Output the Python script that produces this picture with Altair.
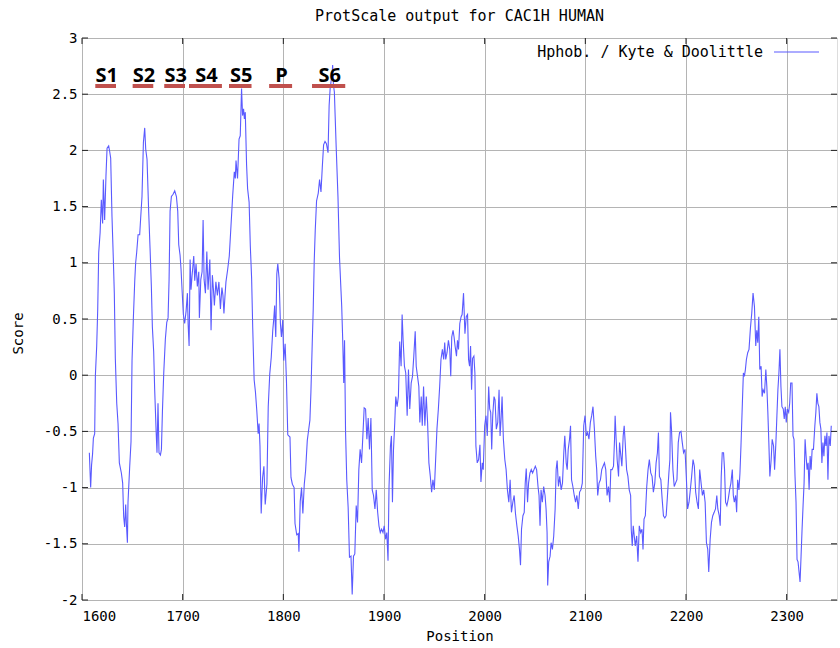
import altair as alt
import pandas as pd

# Kyte & Doolittle hydropathy profile of CAC1H (residue position, score),
# split into stretches of the sequence.
trace_s1_s4 = [
    [1607.3, -0.69], [1608.6, -1.00], [1609.5, -0.80], [1610.5, -0.70], [1611.3, -0.56],
    [1612.6, -0.52], [1613.3, 0.00], [1614.6, 0.26], [1615.6, 0.58], [1616.6, 1.09],
    [1618.0, 1.27], [1619.2, 1.56], [1620.5, 1.35], [1621.2, 1.74], [1622.5, 1.38],
    [1623.8, 1.77], [1624.9, 2.02], [1626.5, 2.04], [1627.5, 1.99], [1628.5, 1.93],
    [1629.8, 1.41], [1631.1, 1.04], [1632.1, 0.73], [1633.1, 0.15], [1634.5, -0.25],
    [1635.8, -0.43], [1637.1, -0.78], [1639.1, -0.87], [1640.4, -0.96], [1641.4, -1.26],
    [1642.4, -1.35], [1643.4, -1.15], [1644.1, -1.32], [1645.1, -1.49], [1645.7, -1.13],
    [1647.4, -0.81], [1648.7, -0.59], [1649.7, 0.13], [1651.0, 0.50], [1652.4, 0.84],
    [1653.3, 1.00], [1654.3, 1.09], [1655.7, 1.25], [1657.3, 1.25], [1658.3, 1.40],
    [1659.6, 1.59], [1661.0, 2.07], [1662.3, 2.20], [1663.3, 2.01], [1664.6, 1.92],
    [1666.3, 1.44], [1667.6, 1.13], [1668.9, 0.79], [1669.9, 0.43], [1671.2, 0.21],
    [1672.2, -0.13], [1673.6, -0.49], [1674.5, -0.69], [1675.5, -0.25], [1676.5, -0.69],
    [1677.9, -0.71], [1678.9, -0.66], [1679.9, -0.32], [1681.2, 0.02], [1682.8, 0.32],
    [1684.2, 0.47], [1685.5, 0.51], [1686.5, 0.85], [1687.5, 1.46], [1688.8, 1.59],
    [1690.5, 1.61], [1692.1, 1.64], [1693.8, 1.59], [1695.1, 1.46], [1696.1, 1.16],
    [1697.4, 1.07], [1698.4, 0.94], [1699.4, 0.76], [1700.7, 0.54], [1702.0, 0.46],
    [1703.4, 0.57], [1704.7, 0.73], [1705.4, 0.46], [1706.4, 0.26], [1707.4, 1.03],
    [1708.3, 0.76], [1709.3, 0.88], [1711.0, 1.06], [1712.0, 0.84], [1713.3, 0.99],
    [1714.6, 0.79], [1716.0, 0.92], [1716.6, 0.51], [1718.0, 0.85], [1719.3, 0.92],
    [1720.3, 1.38], [1721.3, 0.85], [1722.6, 0.73], [1724.0, 1.10], [1725.2, 0.76],
    [1727.0, 1.03], [1728.2, 0.40],
]

trace_s5_p = [
    [1729.5, 0.89], [1730.5, 0.77], [1731.5, 0.62], [1733.0, 0.83], [1734.5, 0.71],
    [1736.0, 0.83], [1737.5, 0.59], [1739.0, 0.78], [1740.0, 0.71], [1741.0, 0.55],
    [1742.0, 0.70], [1743.0, 0.83], [1744.7, 0.94], [1746.3, 1.06], [1748.0, 1.33],
    [1749.7, 1.60], [1751.3, 1.81], [1752.3, 1.75], [1753.0, 1.91], [1754.5, 1.75],
    [1756.0, 2.10], [1757.2, 2.13], [1758.5, 2.55], [1759.5, 2.31], [1760.5, 2.37],
    [1761.3, 2.28], [1762.2, 2.34], [1763.5, 1.87], [1764.5, 1.66], [1766.0, 1.54],
    [1767.2, 1.15], [1768.5, 0.86], [1769.6, 0.42], [1771.0, -0.04], [1772.3, -0.15],
    [1773.6, -0.31], [1775.0, -0.52], [1775.9, -0.43], [1776.8, -0.63], [1778.0, -1.23],
    [1779.4, -0.91], [1780.7, -0.81], [1782.0, -1.15], [1783.7, -0.97], [1785.0, -0.28],
    [1786.5, 0.01], [1788.0, 0.16], [1789.5, 0.40], [1790.4, 0.49], [1791.4, 0.62],
    [1791.9, 0.46], [1792.5, 0.34], [1793.5, 0.90], [1794.5, 0.99], [1795.8, 0.86],
    [1797.1, 0.46], [1798.1, 0.34], [1799.4, 0.49], [1800.4, 0.13], [1801.8, 0.28],
    [1803.1, -0.05], [1804.4, -0.53], [1806.6, -0.55], [1807.6, -0.91], [1809.0, -0.97],
    [1810.7, -1.00], [1811.6, -1.32], [1813.3, -1.42], [1814.8, -1.41], [1815.5, -1.57],
    [1816.8, -1.12], [1818.1, -1.00], [1819.4, -1.23], [1820.8, -0.97], [1822.1, -0.85],
    [1823.8, -0.58], [1825.1, -0.49], [1826.4, -0.40], [1827.4, -0.15],
]

trace_s6 = [
    [1828.7, 0.28], [1829.7, 0.59], [1830.7, 1.02], [1831.7, 1.29], [1833.0, 1.55],
    [1834.7, 1.62], [1836.0, 1.74], [1837.4, 1.63], [1838.7, 1.85], [1840.0, 2.05],
    [1841.4, 2.08], [1842.8, 2.06], [1844.4, 1.98], [1845.5, 2.40], [1846.5, 2.55],
    [1847.5, 2.62], [1848.4, 2.68], [1849.0, 2.76], [1849.8, 2.58], [1850.7, 2.52],
    [1851.5, 2.30], [1852.5, 2.03], [1854.3, 1.58], [1855.8, 1.05], [1857.3, 0.75],
]

trace_linker_a = [
    [1858.0, 0.61], [1859.0, 0.31], [1860.0, -0.07], [1860.8, 0.31], [1861.8, -0.50],
    [1863.0, -0.93], [1864.4, -1.18], [1865.7, -1.62], [1867.2, -1.61], [1868.4, -1.95],
    [1869.7, -1.61], [1871.0, -1.59], [1872.4, -1.16], [1873.7, -1.31], [1875.0, -0.84],
    [1876.3, -0.66], [1877.7, -0.78], [1879.0, -0.54], [1880.3, -0.29], [1881.7, -0.30],
    [1883.0, -0.57], [1884.3, -0.38], [1885.6, -0.66], [1887.0, -0.38], [1888.3, -1.02],
    [1889.6, -1.07], [1891.0, -1.19], [1892.3, -1.02], [1893.7, -1.22], [1895.0, -1.34],
    [1896.3, -1.40], [1897.6, -1.37], [1899.0, -1.40], [1900.2, -1.34], [1901.6, -1.46],
    [1902.8, -1.40], [1904.0, -1.65], [1905.0, -0.99], [1906.4, -0.63], [1907.4, -0.54],
    [1908.4, -1.13], [1909.4, -0.67], [1910.7, -0.42], [1911.7, -0.19], [1913.0, -0.28],
    [1914.3, -0.19], [1915.6, 0.30], [1917.0, 0.08], [1918.0, 0.54], [1919.0, 0.31],
    [1920.3, 0.08], [1921.6, 0.02], [1923.0, -0.36], [1924.3, 0.05], [1925.6, -0.30],
    [1927.0, -0.07], [1928.3, -0.01], [1929.6, 0.17], [1931.0, 0.39], [1932.0, 0.08],
    [1933.3, -0.01], [1934.6, -0.10], [1935.6, -0.42], [1937.0, -0.19], [1938.0, -0.45],
    [1939.3, -0.10], [1940.6, -0.45], [1942.0, -0.19], [1943.3, -0.42], [1944.6, -0.78],
    [1946.0, -0.90], [1947.3, -1.04], [1948.6, -0.93], [1950.0, -1.02], [1951.3, -0.75],
    [1952.6, -0.48], [1954.0, -0.30], [1955.3, -0.10], [1956.6, 0.14], [1958.0, 0.23],
    [1959.3, 0.14], [1960.3, 0.29], [1961.3, 0.14], [1962.6, 0.20], [1964.0, 0.31],
    [1965.3, 0.23], [1966.3, -0.01], [1967.3, 0.34], [1968.6, 0.40], [1969.6, 0.34],
    [1970.6, 0.26], [1972.0, 0.17], [1973.0, 0.31], [1974.0, 0.23], [1975.3, 0.46],
    [1976.6, 0.52], [1977.6, 0.54],
]

trace_linker_b = [
    [1979.0, 0.73], [1980.4, 0.37], [1981.7, 0.52], [1983.0, 0.54], [1984.0, 0.14],
    [1985.0, 0.08], [1986.0, 0.26], [1987.0, -0.13], [1988.0, 0.15], [1989.3, 0.17],
    [1990.3, 0.02], [1991.3, -0.63], [1992.6, -0.78], [1994.0, -0.75], [1995.3, -0.62],
    [1996.3, -0.95], [1997.6, -0.78], [1998.6, -0.84], [2000.0, -0.45], [2001.3, -0.36],
    [2002.6, -0.54], [2004.0, -0.10], [2005.0, -0.30], [2006.0, -0.33], [2007.0, -0.66],
    [2008.0, -0.36], [2009.3, -0.19], [2010.3, -0.22], [2011.6, -0.48], [2013.0, -0.42],
    [2014.3, -0.13], [2015.3, -0.54], [2016.3, -0.39], [2017.3, -0.19], [2018.6, -0.57],
    [2020.0, -0.75], [2021.3, -0.84], [2022.6, -1.02], [2024.0, -1.13], [2025.3, -0.93],
    [2026.6, -1.22], [2028.0, -1.13], [2029.3, -1.07], [2030.6, -1.23], [2032.0, -1.34],
    [2033.3, -1.43], [2034.6, -1.55], [2035.6, -1.69], [2036.6, -1.37], [2038.0, -1.25],
    [2039.3, -1.22], [2040.3, -0.96], [2041.3, -0.83], [2042.6, -1.13], [2043.6, -0.96],
    [2045.0, -0.87], [2046.3, -0.84], [2047.6, -0.87], [2049.0, -0.84], [2050.3, -0.81],
    [2051.6, -0.84], [2053.0, -0.99], [2054.0, -1.07], [2055.0, -1.34], [2056.0, -1.02],
    [2057.3, -1.13], [2058.6, -0.99], [2060.0, -1.07], [2061.0, -1.19], [2062.0, -1.40],
    [2062.6, -1.87], [2063.6, -1.66], [2065.0, -1.61], [2066.0, -1.49], [2067.3, -1.55],
    [2068.6, -1.43], [2070.0, -1.19], [2071.0, -0.84], [2072.0, -0.76], [2073.3, -0.99],
    [2074.6, -0.90], [2076.0, -1.02], [2077.3, -0.96], [2078.6, -0.69], [2079.6, -0.54],
    [2081.0, -0.78], [2082.0, -0.84], [2083.0, -0.66], [2084.3, -0.57], [2085.3, -0.45],
    [2086.3, -0.93], [2087.6, -0.99], [2089.0, -1.07], [2090.3, -1.13], [2091.6, -1.07],
    [2093.0, -1.19], [2094.3, -1.04], [2095.6, -1.02], [2097.0, -0.96], [2098.4, -0.45],
    [2099.7, -0.36],
]

trace_c_term_a = [
    [2101.0, -0.54], [2102.3, -0.51], [2103.6, -0.57], [2105.0, -0.42], [2106.3, -0.36],
    [2107.6, -0.28], [2109.0, -0.48], [2110.3, -0.72], [2111.3, -0.84], [2112.3, -1.07],
    [2113.6, -0.96], [2115.0, -0.93], [2116.3, -0.84], [2117.6, -0.81], [2119.0, -0.78],
    [2120.3, -0.84], [2121.6, -1.07], [2123.0, -0.99], [2124.3, -1.13], [2125.3, -0.84],
    [2126.6, -0.84], [2128.0, -0.81], [2129.0, -0.57], [2129.6, -0.36], [2130.6, -0.57],
    [2131.6, -0.75], [2133.0, -0.90], [2134.0, -0.60], [2135.3, -0.72], [2136.3, -0.81],
    [2137.6, -0.54], [2138.6, -0.45], [2139.6, -0.60], [2141.0, -0.84], [2142.3, -0.90],
    [2143.6, -1.02], [2145.0, -1.07], [2145.6, -1.37], [2146.6, -1.52], [2147.6, -1.34],
    [2148.6, -1.43], [2149.6, -1.52], [2151.0, -1.43], [2152.3, -1.66], [2153.6, -1.34],
    [2155.0, -1.40], [2156.3, -1.37], [2157.3, -1.55], [2158.3, -1.28], [2159.6, -1.25],
    [2161.0, -0.99], [2162.3, -0.84], [2163.6, -0.75], [2165.0, -0.87], [2166.3, -0.90],
    [2167.6, -1.04], [2169.0, -0.96], [2170.3, -0.78], [2171.6, -0.69], [2172.6, -0.51],
    [2173.6, -0.90], [2175.0, -0.93], [2176.3, -1.10], [2177.6, -1.25], [2179.0, -1.27],
    [2180.3, -1.25], [2181.6, -1.07], [2183.0, -0.87], [2184.0, -0.75], [2184.6, -0.33],
    [2185.6, -0.48], [2187.0, -0.84], [2188.3, -0.99], [2189.6, -0.96], [2191.0, -0.93],
    [2192.3, -0.60], [2193.6, -0.51], [2195.0, -0.50], [2196.3, -0.60], [2197.6, -0.69],
    [2199.0, -0.66], [2200.3, -0.90], [2201.6, -1.19], [2203.0, -1.13], [2204.3, -1.02],
    [2205.6, -0.90], [2207.0, -0.75], [2208.3, -0.81], [2209.6, -1.04], [2211.0, -1.13],
    [2212.3, -1.19], [2213.6, -0.84], [2215.0, -0.96], [2216.3, -1.07], [2217.6, -1.02],
    [2219.0, -1.13], [2220.3, -1.49], [2221.6, -1.55],
]

trace_c_term_b = [
    [2222.6, -1.75], [2224.0, -1.46], [2225.3, -1.31], [2226.6, -1.25], [2228.0, -1.22],
    [2229.3, -1.19], [2230.6, -1.07], [2231.6, -1.19], [2233.0, -1.25], [2234.0, -1.34],
    [2235.0, -0.90], [2236.0, -0.69], [2237.3, -0.69], [2238.3, -0.84], [2239.3, -1.13],
    [2240.6, -1.16], [2242.0, -1.10], [2243.3, -1.02], [2244.6, -0.96], [2246.0, -0.84],
    [2247.0, -1.07], [2248.0, -1.13], [2249.3, -1.07], [2250.3, -1.22], [2251.3, -0.93],
    [2252.6, -1.02], [2253.6, -0.87], [2254.6, -0.63], [2256.0, -0.25], [2257.0, 0.02],
    [2258.0, -0.01], [2259.0, 0.05], [2260.0, 0.14], [2261.3, 0.20], [2262.6, 0.23],
    [2264.0, 0.42], [2265.3, 0.55], [2266.6, 0.73], [2268.0, 0.61], [2269.3, 0.26],
    [2270.3, 0.40], [2271.3, 0.29], [2272.3, 0.52], [2273.3, 0.05], [2274.6, 0.08],
    [2275.6, -0.19], [2276.6, -0.13], [2278.0, -0.16], [2279.3, 0.05], [2280.3, -0.10],
    [2281.3, -0.33], [2282.3, -0.60], [2283.3, -0.90], [2284.6, -0.75], [2285.6, -0.57],
    [2287.0, -0.63], [2288.0, -0.84], [2289.3, -0.60], [2290.3, -0.36], [2291.3, -0.13],
    [2292.3, 0.02], [2293.3, 0.23], [2294.3, -0.10], [2295.3, -0.28], [2296.6, -0.30],
    [2297.6, -0.39], [2298.6, -0.28], [2299.6, -0.42], [2300.6, -0.30], [2302.0, -0.33],
    [2303.0, -0.25], [2304.0, -0.07], [2305.3, -0.07], [2306.3, -0.54], [2307.3, -0.57],
    [2308.3, -0.90], [2309.3, -1.13], [2310.3, -1.64], [2311.3, -1.66], [2312.3, -1.75],
    [2313.3, -1.84], [2314.3, -1.61], [2315.3, -1.37], [2316.3, -1.16], [2317.3, -0.96],
    [2318.3, -0.57], [2319.3, -0.72], [2320.3, -0.84], [2321.3, -0.78], [2322.3, -1.02],
    [2323.3, -0.72], [2324.3, -0.84], [2325.3, -0.66], [2326.6, -0.66], [2328.0, -0.45],
    [2329.0, -0.33], [2330.0, -0.16], [2331.0, -0.25], [2332.0, -0.28], [2333.0, -0.42],
    [2334.0, -0.48], [2335.0, -0.78], [2336.0, -0.60], [2337.0, -0.72], [2338.0, -0.54],
    [2339.0, -0.63], [2340.0, -0.51], [2341.0, -0.93], [2342.0, -0.54], [2343.3, -0.63],
    [2344.3, -0.45],
]

# Transmembrane segments of domain IV and the pore loop
segment_names = ["S1", "S2", "S3", "S4", "S5", "P", "S6"]
segment_start = [1613.2, 1650.3, 1681.7, 1706.3, 1746.0, 1785.9, 1828.5]
segment_end = [1633.8, 1670.8, 1702.3, 1739.0, 1768.4, 1808.7, 1861.5]

x_ticks = [1600, 1700, 1800, 1900, 2000, 2100, 2200, 2300]
y_ticks = [-2, -1.5, -1, -0.5, 0, 0.5, 1, 1.5, 2, 2.5, 3]

legend_label = "Hphob. / Kyte & Doolittle"
chart_title = "ProtScale output for CAC1H HUMAN"

W, H = 755, 562
MONO = "DejaVu Sans Mono"
LINE_COLOR = "#5a5aff"
GRID_COLOR = "#b4b4b4"

rows = []
for part in (trace_s1_s4, trace_s5_p, trace_s6, trace_linker_a,
             trace_linker_b, trace_c_term_a, trace_c_term_b):
    rows.extend(part)
profile = pd.DataFrame(rows, columns=["Position", "Score"])

# every layer uses the same field names so the shared axes merge cleanly
segments = pd.DataFrame({"name": segment_names, "Position": segment_start, "end": segment_end})
xt = pd.DataFrame({"Position": x_ticks})
yt = pd.DataFrame({"Score": y_ticks})

x_scale = alt.Scale(domain=[1600, 2350], nice=False, zero=False)
y_scale = alt.Scale(domain=[-2, 3], nice=False, zero=False)

x_axis = alt.Axis(
    values=x_ticks, grid=True, gridColor=GRID_COLOR, gridWidth=1, ticks=False, tickSize=0,
    domain=False, labelFont=MONO, labelFontSize=14, labelColor="black", labelPadding=9,
    labelExpr="'' + datum.value", title="Position", titleFont=MONO, titleFontSize=14,
    titleFontWeight="normal", titleColor="black", titleBaseline="middle", titleY=36,
)
y_axis = alt.Axis(
    values=y_ticks, grid=True, gridColor=GRID_COLOR, gridWidth=1, ticks=False, tickSize=0,
    domain=False, labelFont=MONO, labelFontSize=14, labelColor="black", labelPadding=5,
    labelExpr="'' + datum.value", title="Score", titleFont=MONO, titleFontSize=14,
    titleFontWeight="normal", titleColor="black", titleAngle=270, titleBaseline="middle",
    titleAlign="center", titleX=-64, titleY=295,
)

line = alt.Chart(profile).mark_line(color=LINE_COLOR, strokeWidth=1.1).encode(
    x=alt.X("Position:Q", scale=x_scale, axis=x_axis),
    y=alt.Y("Score:Q", scale=y_scale, axis=y_axis),
)

# inward-pointing ticks on all four sides
tick_style = dict(color="#222222", strokeWidth=1)
bottom_ticks = alt.Chart(xt).mark_rule(**tick_style).encode(
    x=alt.X("Position:Q", scale=x_scale), y=alt.value(H), y2=alt.value(H - 6))
top_ticks = alt.Chart(xt).mark_rule(**tick_style).encode(
    x=alt.X("Position:Q", scale=x_scale), y=alt.value(0), y2=alt.value(6))
left_ticks = alt.Chart(yt).mark_rule(**tick_style).encode(
    y=alt.Y("Score:Q", scale=y_scale), x=alt.value(0), x2=alt.value(6))
right_ticks = alt.Chart(yt).mark_rule(**tick_style).encode(
    y=alt.Y("Score:Q", scale=y_scale), x=alt.value(W), x2=alt.value(W - 6))

# key in the top-right corner: label followed by a line sample
key_df = pd.DataFrame({"label": [legend_label]})
key_text = alt.Chart(key_df).mark_text(
    align="right", baseline="middle", font=MONO, fontSize=15, color="black"
).encode(text="label:N", x=alt.value(681), y=alt.value(14))
key_line = alt.Chart(key_df).mark_rule(color=LINE_COLOR, strokeWidth=1.1).encode(
    x=alt.value(692), x2=alt.value(737), y=alt.value(14))

# chart heading above the plot frame
title_df = pd.DataFrame({"label": [chart_title]})
heading = alt.Chart(title_df).mark_text(
    align="center", baseline="middle", font=MONO, fontSize=15, color="black"
).encode(text="label:N", x=alt.value(W / 2), y=alt.value(-22))

# segment bars and names
seg_bars = alt.Chart(segments).mark_rule(color="#c0504d", strokeWidth=4).encode(
    x=alt.X("Position:Q", scale=x_scale),
    x2="end:Q",
    y=alt.value(48),
)
seg_names = alt.Chart(segments).transform_calculate(
    Position="(datum.Position + datum.end) / 2"
).mark_text(
    font="Open Sans", fontSize=20, fontWeight="bold", color="black",
    align="center", baseline="alphabetic", dx=1,
).encode(
    x=alt.X("Position:Q", scale=x_scale),
    y=alt.value(44),
    text="name:N",
)

chart = alt.layer(
    line, bottom_ticks, top_ticks, left_ticks, right_ticks,
    key_text, key_line, heading, seg_bars, seg_names,
).properties(
    width=W,
    height=H,
    autosize=alt.AutoSizeParams(type="none"),
    padding={"left": 82, "top": 38, "right": 3, "bottom": 48},
).configure_view(
    stroke="#222222", strokeWidth=1.5
).configure(background="white")

chart.save("out.html", embed_options={"renderer": "svg", "actions": False})
